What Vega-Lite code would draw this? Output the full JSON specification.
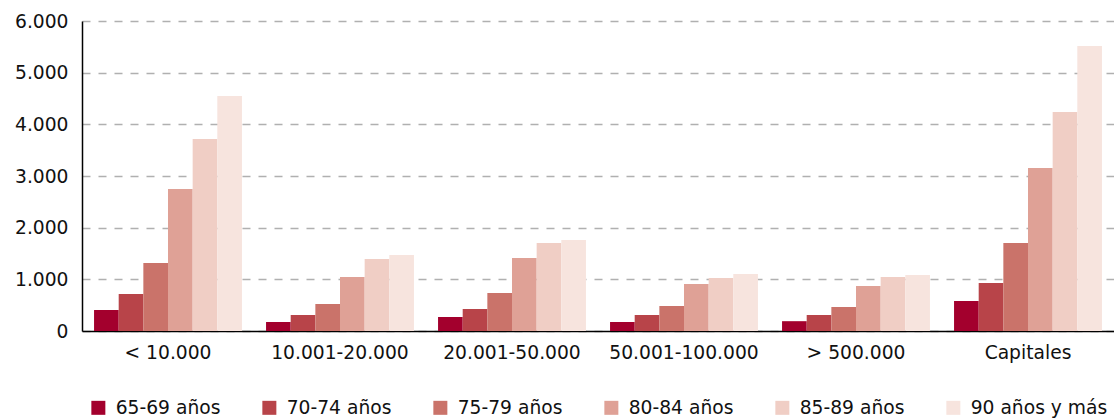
{
  "$schema": "https://vega.github.io/schema/vega-lite/v6.json",
  "width": 1032,
  "height": 310,
  "autosize": {"type": "none"},
  "padding": {"left": 82, "top": 21, "right": 0, "bottom": 88},
  "background": "white",
  "config": {
    "font": "DejaVu Sans",
    "view": {"stroke": null}
  },
  "data": {
    "values": [
      {"tamano": "< 10.000", "edad": "65-69 años", "valor": 406},
      {"tamano": "< 10.000", "edad": "70-74 años", "valor": 716},
      {"tamano": "< 10.000", "edad": "75-79 años", "valor": 1316},
      {"tamano": "< 10.000", "edad": "80-84 años", "valor": 2748},
      {"tamano": "< 10.000", "edad": "85-89 años", "valor": 3716},
      {"tamano": "< 10.000", "edad": "90 años y más", "valor": 4548},
      {"tamano": "10.001-20.000", "edad": "65-69 años", "valor": 174},
      {"tamano": "10.001-20.000", "edad": "70-74 años", "valor": 310},
      {"tamano": "10.001-20.000", "edad": "75-79 años", "valor": 523},
      {"tamano": "10.001-20.000", "edad": "80-84 años", "valor": 1045},
      {"tamano": "10.001-20.000", "edad": "85-89 años", "valor": 1394},
      {"tamano": "10.001-20.000", "edad": "90 años y más", "valor": 1471},
      {"tamano": "20.001-50.000", "edad": "65-69 años", "valor": 271},
      {"tamano": "20.001-50.000", "edad": "70-74 años", "valor": 426},
      {"tamano": "20.001-50.000", "edad": "75-79 años", "valor": 735},
      {"tamano": "20.001-50.000", "edad": "80-84 años", "valor": 1413},
      {"tamano": "20.001-50.000", "edad": "85-89 años", "valor": 1703},
      {"tamano": "20.001-50.000", "edad": "90 años y más", "valor": 1761},
      {"tamano": "50.001-100.000", "edad": "65-69 años", "valor": 174},
      {"tamano": "50.001-100.000", "edad": "70-74 años", "valor": 310},
      {"tamano": "50.001-100.000", "edad": "75-79 años", "valor": 484},
      {"tamano": "50.001-100.000", "edad": "80-84 años", "valor": 910},
      {"tamano": "50.001-100.000", "edad": "85-89 años", "valor": 1026},
      {"tamano": "50.001-100.000", "edad": "90 años y más", "valor": 1103},
      {"tamano": "> 500.000", "edad": "65-69 años", "valor": 190},
      {"tamano": "> 500.000", "edad": "70-74 años", "valor": 310},
      {"tamano": "> 500.000", "edad": "75-79 años", "valor": 465},
      {"tamano": "> 500.000", "edad": "80-84 años", "valor": 871},
      {"tamano": "> 500.000", "edad": "85-89 años", "valor": 1045},
      {"tamano": "> 500.000", "edad": "90 años y más", "valor": 1084},
      {"tamano": "Capitales", "edad": "65-69 años", "valor": 581},
      {"tamano": "Capitales", "edad": "70-74 años", "valor": 929},
      {"tamano": "Capitales", "edad": "75-79 años", "valor": 1703},
      {"tamano": "Capitales", "edad": "80-84 años", "valor": 3155},
      {"tamano": "Capitales", "edad": "85-89 años", "valor": 4239},
      {"tamano": "Capitales", "edad": "90 años y más", "valor": 5516}
    ]
  },
  "mark": {"type": "bar"},
  "encoding": {
    "x": {
      "field": "tamano",
      "type": "nominal",
      "sort": null,
      "scale": {"paddingInner": 0.14, "paddingOuter": 0.07},
      "axis": {
        "title": null,
        "labelAngle": 0,
        "labelFontSize": 18.7,
        "labelColor": "#111",
        "labelPadding": 12,
        "ticks": false,
        "domainColor": "#000",
        "domainWidth": 1.5
      }
    },
    "xOffset": {
      "field": "edad",
      "type": "nominal",
      "sort": null,
      "scale": {"paddingInner": 0, "paddingOuter": 0}
    },
    "y": {
      "field": "valor",
      "type": "quantitative",
      "scale": {"domain": [0, 6000]},
      "axis": {
        "title": null,
        "values": [0, 1000, 2000, 3000, 4000, 5000, 6000],
        "labelExpr": "replace(format(datum.value, ','), /,/g, '.')",
        "labelFontSize": 18.7,
        "labelColor": "#111",
        "labelPadding": 14,
        "ticks": false,
        "domainColor": "#000",
        "domainWidth": 1.5,
        "gridColor": "#b0b0b0",
        "gridDash": [8, 8],
        "gridWidth": 1.6
      }
    },
    "color": {
      "field": "edad",
      "type": "nominal",
      "sort": null,
      "scale": {
        "domain": ["65-69 años", "70-74 años", "75-79 años", "80-84 años", "85-89 años", "90 años y más"],
        "range": ["#a3002d", "#b84449", "#ca736a", "#dfa196", "#f0cec5", "#f7e4de"]
      },
      "legend": {
        "title": null,
        "orient": "none",
        "legendX": 7,
        "legendY": 377,
        "direction": "horizontal",
        "columns": 6,
        "columnPadding": 39,
        "symbolType": "square",
        "symbolSize": 196,
        "symbolStrokeWidth": 0,
        "labelOffset": 8,
        "labelFontSize": 18.7,
        "labelColor": "#111",
        "labelLimit": 300
      }
    }
  }
}
